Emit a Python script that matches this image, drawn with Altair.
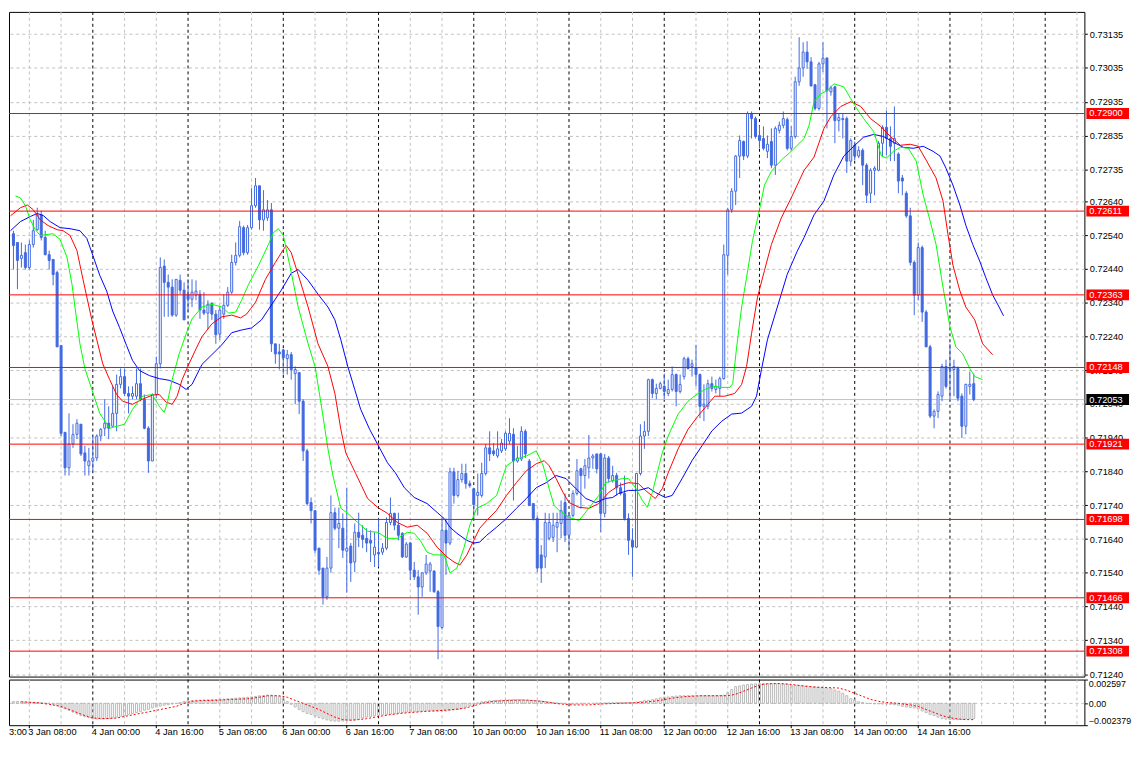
import altair as alt
import pandas as pd

# ---------------- data ----------------
opens = [0.72715,0.72650,0.72641,0.72544,0.72518,0.72471,0.72488,0.72444,0.72512,0.72556,
0.72600,0.72533,0.72482,0.72468,0.72429,0.72213,0.71956,0.71851,0.71921,0.71950,
0.71980,0.71895,0.71857,0.71871,0.71880,0.71945,0.71968,0.71983,0.71974,0.72012,
0.72098,0.72121,0.72071,0.72063,0.72063,0.72100,0.72054,0.71968,0.71871,0.72068,
0.72159,0.72448,0.72400,0.72386,0.72303,0.72406,0.72377,0.72365,0.72350,0.72362,
0.72365,0.72318,0.72309,0.72338,0.72306,0.72247,0.72306,0.72332,0.72371,0.72459,
0.72480,0.72562,0.72488,0.72562,0.72627,0.72686,0.72585,0.72591,0.72615,0.72218,
0.72194,0.72200,0.72174,0.72186,0.72130,0.72133,0.72048,0.71901,0.71748,0.71724,
0.71613,0.71554,0.71469,0.71554,0.71718,0.71672,0.71672,0.71604,0.71619,0.71572,
0.71660,0.71651,0.71642,0.71636,0.71593,0.71600,0.71601,0.71613,0.71689,0.71716,
0.71681,0.71657,0.71587,0.71628,0.71548,0.71528,0.71498,0.71540,0.71545,0.71545,
0.71484,0.71378,0.71666,0.71628,0.71839,0.71769,0.71816,0.71834,0.71804,0.71789,
0.71769,0.71769,0.71834,0.71910,0.71901,0.71886,0.71901,0.71907,0.71930,0.71950,
0.71871,0.71877,0.71959,0.71871,0.71745,0.71701,0.71593,0.71587,0.71642,0.71645,
0.71675,0.71686,0.71748,0.71651,0.71710,0.71775,0.71848,0.71828,0.71851,0.71880,
0.71892,0.71892,0.71716,0.71880,0.71813,0.71828,0.71792,0.71775,0.71701,0.71636,
0.71616,0.71834,0.71945,0.71959,0.72112,0.72071,0.72086,0.72092,0.72071,0.72083,
0.72127,0.72077,0.72121,0.72174,0.72151,0.72148,0.72127,0.72033,0.72033,0.72100,
0.72083,0.72086,0.72115,0.72480,0.72615,0.72670,0.72774,0.72817,0.72774,0.72900,
0.72885,0.72835,0.72826,0.72788,0.72817,0.72747,0.72850,0.72865,0.72882,0.72797,
0.72832,0.72994,0.73035,0.73082,0.73053,0.72985,0.72915,0.73047,0.73064,0.72964,
0.72979,0.72879,0.72885,0.72885,0.72759,0.72806,0.72774,0.72791,0.72747,0.72664,
0.72732,0.72732,0.72812,0.72859,0.72826,0.72812,0.72780,0.72709,0.72664,0.72597,
0.72459,0.72362,0.72503,0.72312,0.72209,0.72004,0.72018,0.72063,0.72151,0.72145,
0.72142,0.72145,0.72063,0.71974,0.72092,0.72100]
highs = [0.72738,0.72700,0.72759,0.72553,0.72518,0.72518,0.72512,0.72524,0.72585,0.72621,
0.72612,0.72553,0.72494,0.72468,0.72435,0.72213,0.71956,0.72012,0.71980,0.71995,
0.71980,0.71916,0.71910,0.71945,0.71950,0.71968,0.72054,0.72033,0.72092,0.72127,
0.72145,0.72145,0.72092,0.72092,0.72145,0.72145,0.72068,0.71974,0.72071,0.72180,
0.72474,0.72468,0.72423,0.72409,0.72409,0.72423,0.72400,0.72409,0.72409,0.72406,
0.72377,0.72371,0.72347,0.72341,0.72318,0.72327,0.72365,0.72386,0.72482,0.72518,
0.72582,0.72568,0.72570,0.72679,0.72709,0.72686,0.72673,0.72644,0.72635,0.72218,
0.72218,0.72203,0.72200,0.72194,0.72151,0.72133,0.72054,0.71907,0.71763,0.71724,
0.71613,0.71554,0.71587,0.71769,0.71733,0.71733,0.71716,0.71792,0.71628,0.71686,
0.71718,0.71681,0.71672,0.71666,0.71660,0.71701,0.71628,0.71704,0.71763,0.71718,
0.71718,0.71660,0.71631,0.71631,0.71572,0.71548,0.71542,0.71593,0.71572,0.71548,
0.71489,0.71704,0.71701,0.71851,0.71851,0.71842,0.71863,0.71863,0.71813,0.71792,
0.71834,0.71866,0.71921,0.71959,0.71924,0.71959,0.71936,0.71959,0.71998,0.71968,
0.71916,0.71974,0.71965,0.71877,0.71745,0.71710,0.71622,0.71718,0.71716,0.71718,
0.71718,0.71754,0.71775,0.71718,0.71784,0.71877,0.71851,0.71877,0.71948,0.71892,
0.71892,0.71895,0.71892,0.71886,0.71857,0.71836,0.71807,0.71828,0.71716,0.71672,
0.71836,0.71980,0.71989,0.72115,0.72115,0.72100,0.72106,0.72130,0.72112,0.72151,
0.72130,0.72127,0.72180,0.72180,0.72171,0.72215,0.72130,0.72098,0.72112,0.72121,
0.72112,0.72121,0.72512,0.72621,0.72679,0.72777,0.72835,0.72820,0.72906,0.72906,
0.72891,0.72865,0.72862,0.72835,0.72856,0.72862,0.72876,0.72906,0.72888,0.72862,
0.73009,0.73126,0.73111,0.73114,0.73067,0.72988,0.73053,0.73111,0.73067,0.72982,
0.72982,0.72900,0.72900,0.72891,0.72826,0.72817,0.72803,0.72797,0.72753,0.72738,
0.72744,0.72818,0.72865,0.72909,0.72862,0.72921,0.72785,0.72718,0.72670,0.72621,
0.72465,0.72518,0.72509,0.72318,0.72215,0.72024,0.72077,0.72159,0.72171,0.72218,
0.72171,0.72151,0.72071,0.72100,0.72136,0.72130]
lows = [0.72650,0.72635,0.72553,0.72438,0.72380,0.72444,0.72438,0.72438,0.72503,0.72553,
0.72524,0.72480,0.72438,0.72391,0.72209,0.71945,0.71828,0.71828,0.71910,0.71936,
0.71886,0.71828,0.71828,0.71842,0.71871,0.71930,0.71945,0.71936,0.71974,0.71959,
0.72086,0.72063,0.72012,0.72054,0.72054,0.72048,0.71965,0.71836,0.71871,0.72057,
0.72145,0.72298,0.72298,0.72298,0.72298,0.72365,0.72289,0.72312,0.72327,0.72347,
0.72292,0.72303,0.72262,0.72289,0.72218,0.72230,0.72292,0.72327,0.72365,0.72450,
0.72474,0.72480,0.72482,0.72556,0.72621,0.72556,0.72553,0.72582,0.72194,0.72159,
0.72142,0.72127,0.72127,0.72112,0.72039,0.72010,0.71871,0.71739,0.71686,0.71598,
0.71534,0.71446,0.71460,0.71540,0.71666,0.71613,0.71584,0.71481,0.71513,0.71542,
0.71616,0.71613,0.71601,0.71572,0.71557,0.71557,0.71593,0.71607,0.71681,0.71666,
0.71636,0.71584,0.71584,0.71519,0.71519,0.71416,0.71469,0.71534,0.71484,0.71481,
0.71284,0.71372,0.71534,0.71622,0.71745,0.71763,0.71807,0.71789,0.71792,0.71701,
0.71710,0.71763,0.71828,0.71871,0.71886,0.71880,0.71895,0.71901,0.71921,0.71754,
0.71866,0.71871,0.71880,0.71739,0.71695,0.71542,0.71510,0.71554,0.71636,0.71631,
0.71601,0.71642,0.71631,0.71613,0.71704,0.71769,0.71730,0.71789,0.71819,0.71848,
0.71834,0.71660,0.71704,0.71807,0.71807,0.71769,0.71769,0.71695,0.71593,0.71528,
0.71613,0.71828,0.71907,0.71945,0.72057,0.72054,0.72083,0.72054,0.72063,0.72077,
0.72033,0.72071,0.72112,0.72142,0.72121,0.72092,0.71998,0.71989,0.72024,0.72077,
0.72071,0.72063,0.72112,0.72423,0.72606,0.72629,0.72709,0.72762,0.72768,0.72826,
0.72826,0.72797,0.72791,0.72768,0.72738,0.72718,0.72841,0.72856,0.72791,0.72791,
0.72826,0.72982,0.73009,0.73032,0.72979,0.72909,0.72909,0.73023,0.72856,0.72953,
0.72812,0.72847,0.72826,0.72724,0.72744,0.72762,0.72768,0.72688,0.72635,0.72635,
0.72658,0.72729,0.72774,0.72777,0.72759,0.72759,0.72664,0.72658,0.72591,0.72450,
0.72303,0.72347,0.72283,0.72209,0.71998,0.71968,0.71998,0.72048,0.72086,0.72048,
0.72063,0.72048,0.71939,0.71950,0.72068,0.72048]
closes = [0.72664,0.72658,0.72553,0.72509,0.72465,0.72480,0.72444,0.72512,0.72553,0.72600,
0.72533,0.72482,0.72465,0.72423,0.72209,0.71953,0.71851,0.71921,0.71950,0.71983,
0.71892,0.71871,0.71871,0.71880,0.71945,0.71965,0.71983,0.71968,0.72012,0.72098,
0.72121,0.72071,0.72063,0.72071,0.72100,0.72054,0.71968,0.71871,0.72068,0.72159,
0.72444,0.72400,0.72386,0.72303,0.72409,0.72377,0.72289,0.72350,0.72371,0.72374,
0.72318,0.72309,0.72335,0.72306,0.72245,0.72318,0.72332,0.72371,0.72459,0.72480,
0.72565,0.72488,0.72562,0.72627,0.72686,0.72585,0.72615,0.72615,0.72218,0.72188,
0.72188,0.72177,0.72186,0.72142,0.72142,0.72048,0.71901,0.71745,0.71724,0.71607,
0.71548,0.71469,0.71554,0.71718,0.71672,0.71686,0.71607,0.71613,0.71569,0.71660,
0.71645,0.71639,0.71628,0.71628,0.71616,0.71596,0.71613,0.71689,0.71716,0.71681,
0.71651,0.71587,0.71625,0.71548,0.71528,0.71498,0.71540,0.71566,0.71566,0.71484,
0.71381,0.71666,0.71628,0.71839,0.71769,0.71816,0.71834,0.71804,0.71798,0.71742,
0.71778,0.71834,0.71910,0.71892,0.71892,0.71907,0.71924,0.71953,0.71953,0.71871,
0.71880,0.71959,0.71892,0.71739,0.71701,0.71554,0.71554,0.71689,0.71689,0.71681,
0.71689,0.71724,0.71651,0.71710,0.71775,0.71842,0.71828,0.71857,0.71880,0.71886,
0.71848,0.71716,0.71880,0.71819,0.71828,0.71792,0.71775,0.71701,0.71636,0.71616,
0.71834,0.71945,0.71959,0.72112,0.72071,0.72086,0.72100,0.72077,0.72083,0.72127,
0.72077,0.72098,0.72174,0.72145,0.72159,0.72127,0.72033,0.72039,0.72100,0.72086,
0.72092,0.72115,0.72482,0.72615,0.72670,0.72774,0.72820,0.72774,0.72900,0.72885,
0.72832,0.72820,0.72797,0.72809,0.72747,0.72856,0.72865,0.72885,0.72797,0.72832,
0.72994,0.73035,0.73082,0.73053,0.72982,0.72915,0.73047,0.73064,0.72967,0.72976,
0.72879,0.72888,0.72882,0.72759,0.72820,0.72774,0.72791,0.72747,0.72658,0.72732,
0.72738,0.72812,0.72859,0.72826,0.72803,0.72826,0.72700,0.72700,0.72597,0.72459,
0.72362,0.72503,0.72312,0.72209,0.72004,0.72018,0.72068,0.72151,0.72092,0.72142,
0.72151,0.72057,0.71974,0.72098,0.72098,0.72053]

# Alligator-style moving averages (sampled along each line: bar position, price)
green_bar = [-0.25,1.5,3.5,4.75,6,7.25,8.5,9.75,11,13,14.75,16.5,17.75,18.5,19.75,21,22.75,24.75,27.25,31,
33,35.5,38,39.75,41,41.75,43,44.75,46.5,48,50.5,53,55.5,57.25,59,60.5,62.25,64.75,67.25,68.5,
69.75,71,72.75,74.75,77.25,79,80.5,82.25,83.5,85.5,87.25,89.75,92.25,94.75,97.25,99.75,102.25,104,105.5,107.25,
109,111.5,113,114.75,116.5,118,119.75,122.25,124.75,127.25,129.75,132.25,134.75,136.5,138,139.25,140.5,143,145.5,148,
150.5,152.25,154,156.5,158,159.75,161.5,162.75,164,166.5,168,170.5,173,175.5,177.75,179.75,181.5,183.5,184.25,185.25,
186.5,187.75,189.25,191,192.25,194,196.5,199,200.5,202.25,203.5,204.75,206.5,208,209.75,212.25,214,215.5,217.25,219.75,
221.75,223,224.75,226.5,228.5,230.5,232.25,234,235.5,237.25,239,240.5,242.25,244,245.25,247.25]
green_val = [0.72612,0.72635,0.72656,0.72650,0.72627,0.72585,0.72556,0.72539,0.72541,0.72544,0.72527,0.72474,0.72394,0.72327,0.72218,0.72145,0.72083,0.72012,0.71968,0.71980,
0.72024,0.72063,0.72068,0.72033,0.72015,0.72042,0.72112,0.72188,0.72247,0.72292,0.72327,0.72335,0.72327,0.72309,0.72312,0.72347,0.72394,0.72450,0.72512,0.72547,
0.72559,0.72539,0.72444,0.72327,0.72218,0.72151,0.72042,0.71907,0.71828,0.71731,0.71716,0.71689,0.71663,0.71660,0.71642,0.71642,0.71660,0.71657,0.71636,0.71601,
0.71593,0.71593,0.71540,0.71554,0.71613,0.71681,0.71731,0.71745,0.71769,0.71857,0.71877,0.71886,0.71901,0.71857,0.71789,0.71739,0.71725,0.71704,0.71695,0.71731,
0.71769,0.71807,0.71813,0.71819,0.71819,0.71792,0.71754,0.71734,0.71778,0.71895,0.71945,0.72010,0.72048,0.72071,0.72086,0.72092,0.72089,0.72089,0.72100,0.72209,
0.72327,0.72415,0.72524,0.72615,0.72688,0.72729,0.72762,0.72788,0.72806,0.72826,0.72865,0.72935,0.72959,0.72967,0.72988,0.72979,0.72944,0.72915,0.72885,0.72847,
0.72774,0.72768,0.72788,0.72800,0.72797,0.72759,0.72659,0.72582,0.72512,0.72386,0.72268,0.72209,0.72188,0.72145,0.72121,0.72112]

red_bar = [-0.25,2.25,4.75,6.5,8,9.75,11.75,14,15.5,17.25,19,20.25,21.5,22.75,24,25.5,27.25,29,30.5,33,
35.5,38,39.75,41.5,43,44.25,45.5,47.25,49,50.5,53,55.5,58,60.25,61.75,64,66.5,69,71,71.75,
73,74.75,77.25,79.75,82.25,84,85.5,86.75,89.25,92.25,94.75,97.25,99.75,102.25,104.75,107.25,109.75,112.25,114,115.5,
117.25,119,120.5,122.25,124.75,127.25,129.75,132.25,134.75,136.75,138,139.75,141.5,143,145.5,148,150.5,153,155.5,158,
160.5,162.25,164.75,166.5,168,170.5,173,175.5,178,179.75,182.25,184.75,186.5,187.75,189,190.5,192.25,194,196.5,199,
200.5,202.25,204.75,207.25,209,211.5,214,216.5,219,221.5,224,226.5,229,231,233,235.5,237.25,238.5,239.75,241.5,
243,245.25,247.25,249.75]
red_val = [0.72571,0.72597,0.72621,0.72629,0.72615,0.72585,0.72568,0.72556,0.72553,0.72539,0.72494,0.72424,0.72356,0.72289,0.72230,0.72159,0.72112,0.72068,0.72048,0.72039,
0.72054,0.72066,0.72068,0.72045,0.72039,0.72063,0.72112,0.72159,0.72203,0.72239,0.72277,0.72298,0.72303,0.72295,0.72306,0.72341,0.72409,0.72459,0.72497,0.72509,
0.72488,0.72423,0.72327,0.72218,0.72151,0.72071,0.71965,0.71895,0.71834,0.71760,0.71734,0.71716,0.71689,0.71675,0.71681,0.71657,0.71616,0.71587,0.71572,0.71563,
0.71593,0.71636,0.71672,0.71695,0.71725,0.71769,0.71807,0.71842,0.71863,0.71872,0.71857,0.71819,0.71778,0.71748,0.71734,0.71731,0.71745,0.71778,0.71798,0.71807,
0.71804,0.71784,0.71760,0.71789,0.71836,0.71907,0.71965,0.72004,0.72039,0.72063,0.72063,0.72071,0.72098,0.72151,0.72248,0.72356,0.72435,0.72512,0.72591,0.72650,
0.72688,0.72732,0.72771,0.72856,0.72891,0.72921,0.72935,0.72921,0.72885,0.72862,0.72832,0.72806,0.72809,0.72803,0.72762,0.72709,0.72641,0.72542,0.72451,0.72375,
0.72327,0.72289,0.72218,0.72186]

blue_bar = [-0.25,2.25,4.75,7.25,9,10.5,12.25,14.75,17.25,19.75,21.5,23,24.75,26.5,28,29.75,31.5,33,34.75,37.25,
39.75,42.25,44.75,46.5,48,50.5,53,55.5,58,60.5,63,65.5,68,70.5,73,74.75,77.25,79.75,82.25,84,
85.5,87.25,89,90.5,92.75,94.75,97.25,99.25,101.5,104,107.25,109.75,111.5,113,114.75,117.25,119,120.5,122.25,124.75,
127.25,129.75,132.25,134.75,137.25,139.75,142.25,144.75,147.25,149.75,152.25,154,155.5,158,160.5,163,164.75,167.25,169,171.5,
174,176.5,179,181.5,184,186.5,189,190.25,191.5,193,195.5,198,200.5,202.25,204.75,207.25,209.75,212.25,214.75,217.25,
219.75,222.25,224.75,227.25,229.75,232.25,234.75,236.5,238,239.75,241.5,243,244.75,246.5,248,249.75,251.25,252.5]
blue_val = [0.72545,0.72553,0.72580,0.72595,0.72604,0.72598,0.72580,0.72562,0.72559,0.72553,0.72530,0.72480,0.72421,0.72374,0.72315,0.72266,0.72213,0.72169,0.72139,0.72124,
0.72115,0.72110,0.72098,0.72083,0.72098,0.72157,0.72186,0.72215,0.72251,0.72259,0.72265,0.72289,0.72333,0.72377,0.72427,0.72438,0.72406,0.72365,0.72327,0.72289,
0.72230,0.72151,0.72083,0.72024,0.71965,0.71921,0.71866,0.71836,0.71792,0.71763,0.71745,0.71719,0.71701,0.71675,0.71657,0.71636,0.71628,0.71631,0.71651,0.71675,
0.71701,0.71731,0.71760,0.71792,0.71807,0.71828,0.71819,0.71789,0.71760,0.71748,0.71760,0.71763,0.71775,0.71784,0.71784,0.71792,0.71778,0.71763,0.71769,0.71819,
0.71872,0.71916,0.71960,0.71989,0.72010,0.72013,0.72033,0.72063,0.72142,0.72230,0.72327,0.72424,0.72492,0.72533,0.72600,0.72641,0.72718,0.72774,0.72803,0.72830,
0.72838,0.72832,0.72815,0.72800,0.72797,0.72803,0.72788,0.72774,0.72738,0.72688,0.72629,0.72569,0.72512,0.72463,0.72415,0.72363,0.72330,0.72301]

# MACD panel
macd_hist = [0.00020,0.00020,0.00020,0.00020,0.00020,0.00017,0.00017,0.00015,0.00012,0.00010,
0.00007,0.00003,0.00000,-0.00010,-0.00025,-0.00045,-0.00060,-0.00075,-0.00095,-0.00115,
-0.00133,-0.00145,-0.00155,-0.00167,-0.00170,-0.00170,-0.00168,-0.00165,-0.00160,-0.00150,
-0.00140,-0.00133,-0.00120,-0.00110,-0.00100,-0.00090,-0.00075,-0.00065,-0.00050,-0.00040,
-0.00030,-0.00020,-0.00015,-0.00007,0.00000,0.00010,0.00020,0.00027,0.00030,0.00033,
0.00035,0.00037,0.00038,0.00040,0.00042,0.00045,0.00047,0.00050,0.00052,0.00055,
0.00060,0.00062,0.00067,0.00070,0.00075,0.00083,0.00086,0.00090,0.00090,0.00085,
0.00077,0.00050,0.00020,-0.00010,-0.00040,-0.00067,-0.00090,-0.00110,-0.00120,-0.00140,
-0.00155,-0.00167,-0.00180,-0.00190,-0.00193,-0.00195,-0.00193,-0.00190,-0.00185,-0.00183,
-0.00175,-0.00160,-0.00150,-0.00142,-0.00135,-0.00130,-0.00125,-0.00120,-0.00117,-0.00110,
-0.00105,-0.00100,-0.00095,-0.00092,-0.00090,-0.00088,-0.00085,-0.00083,-0.00083,-0.00083,
-0.00085,-0.00085,-0.00083,-0.00075,-0.00070,-0.00067,-0.00055,-0.00040,-0.00025,-0.00007,
0.00005,0.00017,0.00022,0.00027,0.00030,0.00032,0.00035,0.00037,0.00038,0.00040,
0.00040,0.00038,0.00036,0.00034,0.00032,0.00028,0.00025,0.00020,0.00015,0.00010,
0.00005,0.00000,-0.00005,-0.00007,-0.00007,-0.00007,-0.00005,-0.00005,-0.00003,0.00000,
0.00003,0.00005,0.00005,0.00006,0.00007,0.00008,0.00008,0.00010,0.00010,0.00010,
0.00015,0.00020,0.00030,0.00033,0.00040,0.00050,0.00060,0.00067,0.00070,0.00075,
0.00080,0.00083,0.00083,0.00083,0.00083,0.00083,0.00083,0.00083,0.00083,0.00083,
0.00083,0.00085,0.00090,0.00117,0.00150,0.00183,0.00190,0.00200,0.00205,0.00210,
0.00212,0.00215,0.00217,0.00217,0.00217,0.00217,0.00215,0.00212,0.00210,0.00200,
0.00197,0.00195,0.00190,0.00188,0.00183,0.00180,0.00175,0.00170,0.00167,0.00160,
0.00145,0.00133,0.00110,0.00083,0.00050,0.00040,0.00017,0.00010,0.00000,-0.00002,
-0.00005,-0.00005,-0.00007,-0.00007,-0.00010,-0.00015,-0.00020,-0.00033,-0.00040,-0.00045,
-0.00050,-0.00060,-0.00083,-0.00100,-0.00120,-0.00133,-0.00150,-0.00167,-0.00172,-0.00177,
-0.00177,-0.00177,-0.00175,-0.00170,-0.00167,-0.00167]
signal_bar = [-0.25,5,9,12,15,18,21,23,26,29,31,34,37,40,42,44,46,48,50,54,58,62,65,67,70,72,74,76,78,80,
82,84,86,88,90,92,95,98,101,104,107,111,114,117,119,121,124,128,132,136,140,144,148,151,155,160,163,166,169,172,
176,180,183,185,187,189,191,193,196,199,202,205,208,211,213,215,217,219,221,223,226,229,231,233,235,237,239,241,243,245]
signal_val = [0.00023,0.00017,0.00007,-0.00010,-0.00033,-0.00083,-0.00133,-0.00160,-0.00167,-0.00160,-0.00143,-0.00117,-0.00093,-0.00067,-0.00050,-0.00033,0.0,0.00023,0.00030,0.00033,
0.00043,0.00050,0.00067,0.00083,0.00083,0.00067,0.00033,0.0,-0.00033,-0.00067,-0.00110,-0.00150,-0.00177,-0.00183,-0.00177,-0.00167,-0.00143,-0.00123,-0.00107,-0.00097,
-0.00087,-0.00077,-0.00067,-0.00050,-0.00027,0.0,0.00023,0.00033,0.00037,0.00023,-0.00003,-0.00017,-0.00017,-0.00007,0.0,0.00007,0.00017,0.00033,0.00057,0.00073,
0.00083,0.00083,0.00083,0.00100,0.00133,0.00167,0.00200,0.00213,0.00217,0.00207,0.00190,0.00177,0.00173,0.00167,0.00143,0.00110,0.00077,0.00043,0.00023,0.00010,
0.0,-0.00017,-0.00033,-0.00067,-0.00100,-0.00133,-0.00157,-0.00170,-0.00177,-0.00177]

level_lines = [0.72900, 0.72611, 0.72363, 0.72148, 0.71921, 0.71698, 0.71466, 0.71308]
current_price = [0.72053]
price_ticks = [0.73135, 0.73035, 0.72935, 0.72835, 0.72735, 0.72640, 0.72540, 0.72440, 0.72340, 0.72240,
               0.72140, 0.72040, 0.71940, 0.71840, 0.71740, 0.71640, 0.71540, 0.71440, 0.71340, 0.71240]
macd_ticks = [0.002597, 0.0, -0.002379]
time_label_bars = [7, 23, 39, 55, 71, 87, 103, 119, 135, 151, 167, 183, 199, 215, 231]
time_labels = ["3 Jan 08:00", "4 Jan 00:00", "4 Jan 16:00", "5 Jan 08:00", "6 Jan 00:00", "6 Jan 16:00",
               "7 Jan 08:00", "10 Jan 00:00", "10 Jan 16:00", "11 Jan 08:00", "12 Jan 00:00", "12 Jan 16:00",
               "13 Jan 08:00", "14 Jan 00:00", "14 Jan 16:00"]
day_separator_bars = [23, 47, 71, 95, 119, 143, 167, 191, 215, 239, 263]

# ---------------- layout / style ----------------
W = 1084
H_MAIN = 670
H_MACD = 46
X0 = 1.875                      # first bar position visible at the left edge of the plot
X_DOMAIN = [X0, X0 + W / 4]
Y_DOMAIN = [0.712327, 0.732009]
MACD_DOMAIN = [-0.002379, 0.002597]
CANDLE = "#4169E1"
GRID = "#C0C0C0"
FONT = "Liberation Sans"
FS = 9.3
TAG_HALF = 5.5 * (Y_DOMAIN[1] - Y_DOMAIN[0]) / H_MAIN   # half height of a price tag (5.5 px)

xs = alt.Scale(domain=X_DOMAIN, nice=False, zero=False)
ys = alt.Scale(domain=Y_DOMAIN, nice=False, zero=False)
ms = alt.Scale(domain=MACD_DOMAIN, nice=False, zero=False)

y_axis = alt.Axis(orient="right", values=price_ticks, format=".5f", title=None, grid=True,
                  gridColor=GRID, gridDash=[3, 3], gridWidth=1, tickSize=3, tickColor="black",
                  labelPadding=2, labelFontSize=FS, labelFont=FONT, labelColor="black",
                  domain=False, labelOverlap=False, labelBound=False, labelFlush=False)
m_axis = alt.Axis(orient="right", values=macd_ticks, title=None, grid=False, tickSize=3,
                  tickColor="black", labelPadding=1, labelFontSize=9, labelFont=FONT,
                  labelColor="black", domain=False, labelOverlap=False, labelFlush=True,
                  labelExpr="datum.value == 0 ? '0.00' : format(datum.value, '.6f')")

n = len(opens)
candles = pd.DataFrame({"bar": list(range(n)), "open": opens, "high": highs, "low": lows, "close": closes})
candles["body_lo"] = candles[["open", "close"]].min(axis=1)
candles["body_hi"] = candles[["open", "close"]].max(axis=1)
candles["fill"] = ["white" if c >= o else CANDLE for o, c in zip(opens, closes)]
candles["x0"] = candles["bar"] - 0.25
candles["x1"] = candles["bar"] + 0.25
candles = candles[candles["x0"] >= X0 - 0.01]          # only bars that lie inside the window


def visible_line(bars, vals):
    df = pd.DataFrame({"bar": bars, "v": vals})
    return df[df["bar"] >= X0]


grid_df = pd.DataFrame({"bar": [b for b in range(7, 272, 8) if b not in day_separator_bars]})
sep_df = pd.DataFrame({"bar": day_separator_bars})


def vgrid():
    g = alt.Chart(grid_df).mark_rule(color=GRID, strokeDash=[3, 3], strokeWidth=1).encode(
        x=alt.X("bar:Q", scale=xs, axis=None))
    s = alt.Chart(sep_df).mark_rule(color="black", strokeDash=[3, 3], strokeWidth=1).encode(
        x=alt.X("bar:Q", scale=xs, axis=None))
    return [g, s]


# ---------------- main price panel ----------------
cur_df = pd.DataFrame({"level": current_price})
cur_df["lo"] = cur_df["level"] - TAG_HALF
cur_df["hi"] = cur_df["level"] + TAG_HALF
cur_line = alt.Chart(cur_df).mark_rule(color=GRID, strokeWidth=1).encode(
    y=alt.Y("level:Q", scale=ys, axis=y_axis))

wicks = alt.Chart(candles).mark_rule(color=CANDLE, strokeWidth=1).encode(
    x=alt.X("bar:Q", scale=xs, axis=None),
    y=alt.Y("low:Q", scale=ys, axis=y_axis),
    y2="high:Q")
bodies = alt.Chart(candles).mark_rect(stroke=CANDLE, strokeWidth=1).encode(
    x=alt.X("x0:Q", scale=xs, axis=None), x2="x1:Q",
    y=alt.Y("body_lo:Q", scale=ys, axis=y_axis), y2="body_hi:Q",
    fill=alt.Fill("fill:N", scale=None))


def ma_line(bars, vals, color):
    return alt.Chart(visible_line(bars, vals)).mark_line(color=color, strokeWidth=1).encode(
        x=alt.X("bar:Q", scale=xs, axis=None),
        y=alt.Y("v:Q", scale=ys, axis=y_axis))


# price tags on the right side
lv_df = pd.DataFrame({"level": level_lines})
lv_df["lo"] = lv_df["level"] - TAG_HALF
lv_df["hi"] = lv_df["level"] + TAG_HALF
levels = alt.Chart(lv_df).mark_rule(color="#FF0000", strokeWidth=1).encode(
    y=alt.Y("level:Q", scale=ys, axis=y_axis))
lv_box = alt.Chart(lv_df).mark_rect(color="#FF0000").encode(
    x=alt.value(W + 2), x2=alt.value(W + 45),
    y=alt.Y("lo:Q", scale=ys, axis=y_axis), y2="hi:Q")
lv_txt = alt.Chart(lv_df).mark_text(align="left", baseline="middle", color="white",
                                    fontSize=FS, font=FONT).encode(
    x=alt.value(W + 5), y=alt.Y("level:Q", scale=ys, axis=y_axis),
    text=alt.Text("level:Q", format=".5f"))
cur_box = alt.Chart(cur_df).mark_rect(color="black").encode(
    x=alt.value(W + 2), x2=alt.value(W + 45),
    y=alt.Y("lo:Q", scale=ys, axis=y_axis), y2="hi:Q")
cur_txt = alt.Chart(cur_df).mark_text(align="left", baseline="middle", color="white",
                                      fontSize=FS, font=FONT).encode(
    x=alt.value(W + 5), y=alt.Y("level:Q", scale=ys, axis=y_axis),
    text=alt.Text("level:Q", format=".5f"))

main = alt.layer(
    *vgrid(), cur_line, wicks, bodies,
    ma_line(blue_bar, blue_val, "#0000FF"),
    ma_line(red_bar, red_val, "#FF0000"),
    ma_line(green_bar, green_val, "#00FF00"),
    levels, lv_box, lv_txt, cur_box, cur_txt,
).properties(width=W, height=H_MAIN)

# ---------------- MACD panel ----------------
mh = pd.DataFrame({"bar": list(range(n)), "hist": macd_hist})
mh["x0"] = mh["bar"] - 0.25
mh["x1"] = mh["bar"] + 0.25
mh = mh[mh["x0"] >= X0 - 0.01]
hist = alt.Chart(mh).mark_rect(stroke="#B8B8B8", strokeWidth=1, fillOpacity=0).encode(
    x=alt.X("x0:Q", scale=xs, axis=None), x2="x1:Q",
    y=alt.Y("hist:Q", scale=ms, axis=m_axis), y2=alt.datum(0))
signal = alt.Chart(visible_line(signal_bar, signal_val)).mark_line(
    color="#FF0000", strokeWidth=1, strokeDash=[2, 2]).encode(
    x=alt.X("bar:Q", scale=xs, axis=None), y=alt.Y("v:Q", scale=ms, axis=m_axis))
zero_line = alt.Chart(pd.DataFrame({"v": [0.0]})).mark_rule(color=GRID, strokeDash=[3, 3]).encode(
    y=alt.Y("v:Q", scale=ms, axis=m_axis))

tl_df = pd.DataFrame({"bar": time_label_bars, "label": time_labels})
xticks = alt.Chart(tl_df).mark_rule(color="black").encode(
    x=alt.X("bar:Q", scale=xs, axis=None), y=alt.value(H_MACD), y2=alt.value(H_MACD + 3))
xlabels = alt.Chart(tl_df).mark_text(align="left", baseline="alphabetic", fontSize=FS,
                                     font=FONT, color="black", dx=-1).encode(
    x=alt.X("bar:Q", scale=xs, axis=None), y=alt.value(H_MACD + 10), text="label:N")
first_label = alt.Chart(pd.DataFrame({"t": ["3:00"]})).mark_text(
    align="left", baseline="alphabetic", fontSize=FS, font=FONT, color="black").encode(
    x=alt.value(0), y=alt.value(H_MACD + 10), text="t:N")

macd = alt.layer(
    *vgrid(), zero_line, hist, signal, xticks, xlabels, first_label,
).properties(width=W, height=H_MACD)

chart = alt.vconcat(main, macd, spacing=3, bounds="flush").properties(
    background="white", padding=0,
).configure_view(stroke="black", strokeWidth=1)

chart.save("out.html", embed_options={"renderer": "svg", "actions": False})
